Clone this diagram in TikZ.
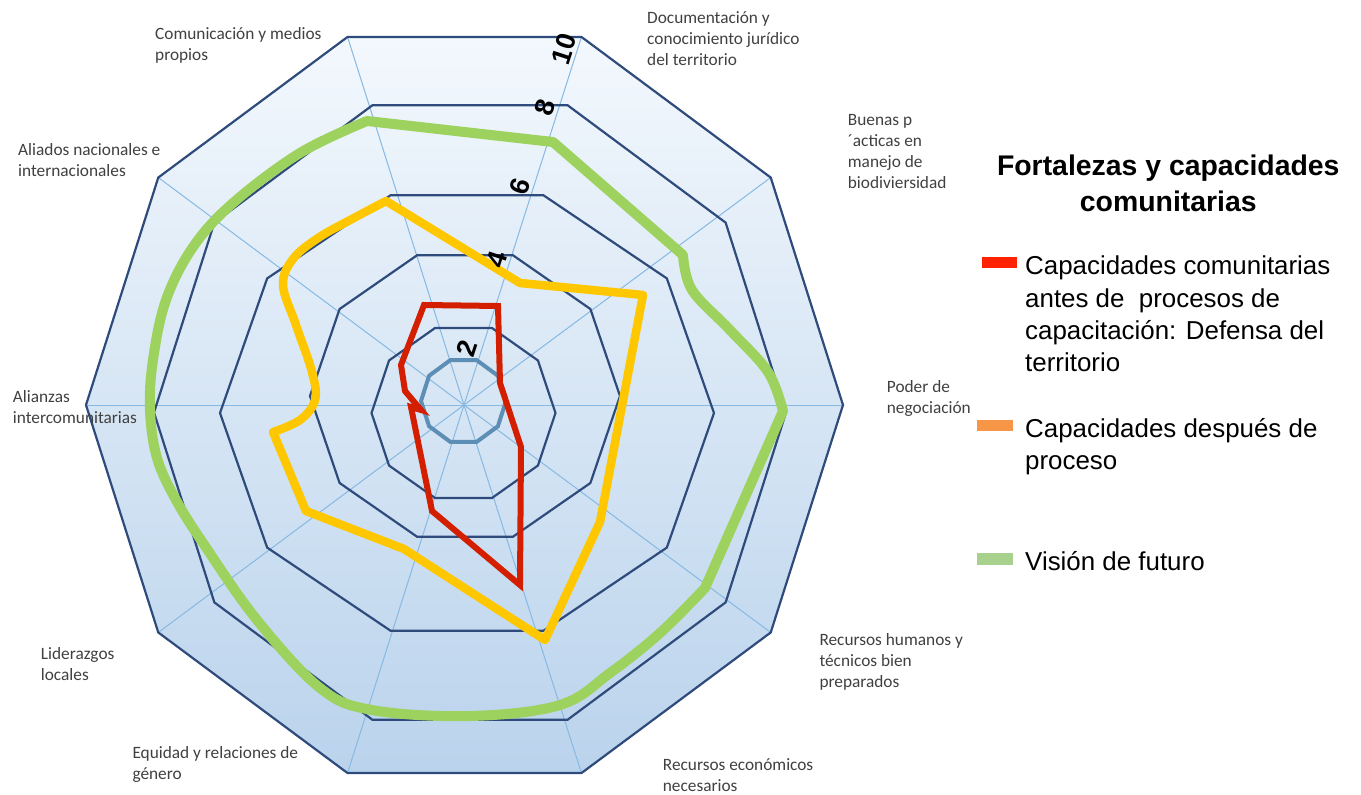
\documentclass[tikz,border=0pt]{standalone}
\usepackage{fontspec}
\setmainfont{Carlito}
\newfontfamily\arialf{Liberation Sans}
\definecolor{navy}{HTML}{2E4B7B}
\definecolor{spokeblue}{HTML}{86B9E3}
\definecolor{bgtop}{HTML}{F3F8FD}
\definecolor{bgbot}{HTML}{BAD3EC}
\definecolor{redser}{HTML}{D41E00}
\definecolor{yelser}{HTML}{FFC700}
\definecolor{greenser}{HTML}{9DD25E}
\definecolor{steel}{HTML}{5D8EB5}
\definecolor{legred}{HTML}{FF2200}
\definecolor{legorange}{HTML}{F79646}
\definecolor{leggreen}{HTML}{A9D18E}
\definecolor{labelgray}{HTML}{404040}
\newcommand\radarring[5][ringline]{\draw[#1] plot[samples=11,domain=0:360,variable=\t] ({#2+#4*cos(\t)},{#3-#5*sin(\t)}) -- cycle;}
\tikzset{
  ringline/.style={draw=navy, line width=2.2pt, line join=miter},
  steelline/.style={draw=steel, line width=4pt, line join=miter},
  spoke/.style={draw=spokeblue, line width=1pt},
  catlabel/.style={anchor=base west, align=left, inner sep=0pt, text=labelgray, font=\fontsize{17.3}{20.8}\selectfont},
  axisnum/.style={rotate=72, inner sep=0pt, font=\arialf\bfseries\fontsize{27}{27}\selectfont},
  legtext/.style={anchor=base west, align=left, inner sep=0pt, font=\arialf\fontsize{25.9}{32.3}\selectfont},
  series/.style={line width=#1, line join=round, line cap=round},
}
\begin{document}
\begin{tikzpicture}[x=1pt,y=-1pt]
\useasboundingbox (0,0) rectangle (1361,795);
% outer vertices and centre
\coordinate (ctr) at (464,405);
\foreach \k in {0,...,9}
  \coordinate (v\k) at ({464.5+378.5*cos(36*\k)},{405-387*sin(36*\k)});
% background
\shade[top color=bgtop,bottom color=bgbot] (v0) -- (v1) -- (v2) -- (v3) -- (v4) -- (v5) -- (v6) -- (v7) -- (v8) -- (v9) -- cycle;
% spokes
\foreach \k in {0,...,9} \draw[spoke] (ctr) -- (v\k);
% rings
\draw[ringline] (v0) -- (v1) -- (v2) -- (v3) -- (v4) -- (v5) -- (v6) -- (v7) -- (v8) -- (v9) -- cycle;
\radarring{470}{412.5}{316}{323}
\radarring{467}{413}{247}{229}
\radarring{465}{396}{155}{148}
\radarring{463.5}{413}{92}{89.4}
\radarring[steelline]{463.5}{401}{42.5}{43}
% series: vision de futuro
\draw[series=10pt, draw=greenser] (367,121) -- (553,142) -- (683,255)
  -- plot[smooth, tension=0.6] coordinates {(683,255) (692,290) (730,330) (768,372) (783,411)}
  -- (705,588)
  -- plot[smooth, tension=0.6] coordinates {(705,588) (660,633) (610,673) (560,705) (470,716) (372,710) (320,688) (257,620) (205,546) (176,500) (157,458) (150,410) (153,360) (166,300) (193,247) (233,203) (300,153) (367,121)} -- cycle;
% series: despues
\draw[series=8.5pt, draw=yelser] (386,201) -- (520,283) -- (643,295) -- (600,522) -- (545,640) -- (404,549) -- (306,511) -- (273,432)
  -- plot[smooth, tension=0.6] coordinates {(273,432) (300,420) (315,400) (312,372) (296,325) (283,285) (293,259) (318,238) (352,219) (386,201)} -- cycle;
% series: antes
\draw[draw=redser, line width=6pt, line join=miter, miter limit=6] (424,305) -- (498,306) -- (500,383) -- (521,447) -- (520,585) -- (432,511) -- (411,407) -- (421,410) -- (405,391) -- (401,365) -- cycle;
% axis numbers
\node[axisnum] (n10) at (564,49) {10};
\node[axisnum] (n8) at (545,107) {8};
\node[axisnum] (n6) at (520,186) {6};
\node[axisnum] (n4) at (497,259) {4};
\node[axisnum] (n2) at (467,348) {2};
% category labels (anchor = baseline of last line)
\node[catlabel] (lcom) at (155,60) {Comunicación y medios\\propios};
\node[catlabel] (lali) at (18,176.5) {Aliados nacionales e\\internacionales};
\node[catlabel] (ldoc) at (647,65) {Documentación y\\conocimiento jurídico\\del territorio};
\node[catlabel] (lbue) at (847.7,188.3) {Buenas p\\´acticas en\\manejo de\\biodiviersidad};
\node[catlabel] (lpod) at (886.7,413.3) {Poder de\\negociación};
\node[catlabel] (lalz) at (12.7,423.3) {Alianzas\\intercomunitarias};
\node[catlabel] (llid) at (40.7,680.5) {Liderazgos\\locales};
\node[catlabel] (lequ) at (132.3,779.5) {Equidad y relaciones de\\género};
\node[catlabel] (lrhu) at (819.3,687.3) {Recursos humanos y\\técnicos bien\\preparados};
\node[catlabel] (lrec) at (662.7,791.7) {Recursos económicos\\necesarios};
% legend
\node[anchor=base, align=center, inner sep=0pt, font=\arialf\bfseries\fontsize{28.4}{36}\selectfont] (ltitle) at (1168.3,211.7) {Fortalezas y capacidades\\comunitarias};
\fill[legred] (982,257.3) rectangle (1017,268.3);
\fill[legorange] (977,420) rectangle (1013,431);
\fill[leggreen] (977,553) rectangle (1013,565);
\node[legtext] (leg1) at (1025,371.7) {Capacidades comunitarias\\antes de\ \ procesos de\\capacitación: Defensa del\\territorio};
\node[legtext] (leg2) at (1025,469.5) {Capacidades después de\\proceso};
\node[legtext] (leg3) at (1025,570) {Visión de futuro};
\end{tikzpicture}
\end{document}
